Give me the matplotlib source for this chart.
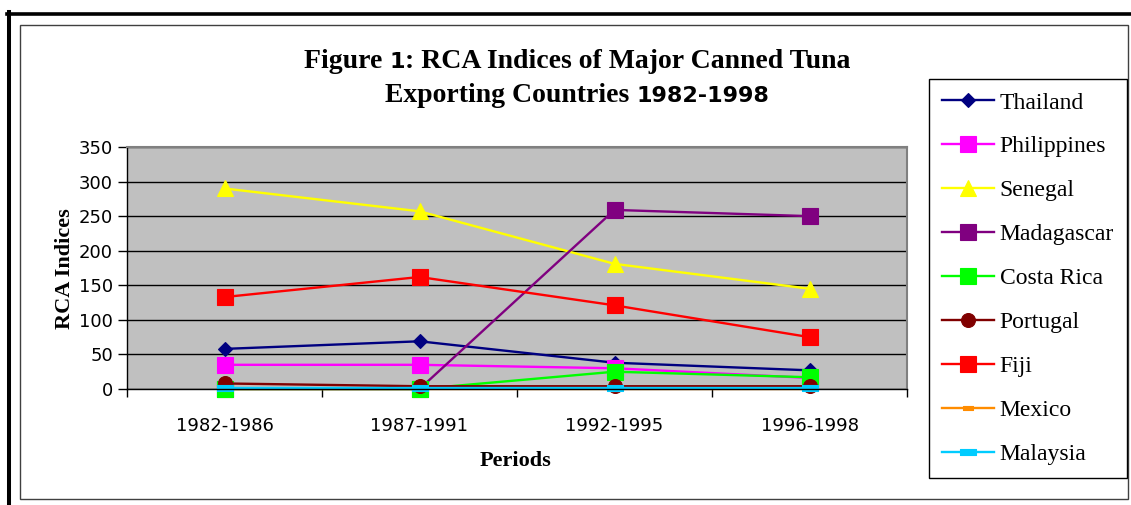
import numpy as np
import matplotlib
matplotlib.use("Agg")
import matplotlib.pyplot as plt
from matplotlib.lines import Line2D
from matplotlib.patches import Rectangle
from matplotlib.offsetbox import TextArea, HPacker, AnchoredOffsetbox

# data
periods = ["1982-1986", "1987-1991", "1992-1995", "1996-1998"]
thailand = [58, 69, 38, 27]
philippines = [35, 35, 30, 16]
senegal = [290, 257, 181, 145]
madagascar = [0, 0, 259, 250]
costa_rica = [0, 0, 25, 17]
portugal = [8, 4, 4, 4]
fiji = [133, 162, 121, 75]
mexico = [0.5, 0.5, 0.5, 0.5]
malaysia = [1.5, 1.5, 1.5, 1.5]

names = ["Thailand", "Philippines", "Senegal", "Madagascar", "Costa Rica",
         "Portugal", "Fiji", "Mexico", "Malaysia"]
values = [thailand, philippines, senegal, madagascar, costa_rica,
          portugal, fiji, mexico, malaysia]
colors = ["#000080", "#FF00FF", "#FFFF00", "#800080", "#00FF00",
          "#800000", "#FF0000", "#FF8C00", "#00CCFF"]
small_bar = [(-1, -0.4), (1, -0.4), (1, 0.4), (-1, 0.4), (-1, -0.4)]
markers = ["D", "s", "^", "s", "s", "o", "s", small_bar, small_bar]
msizes = [7.5, 11, 11, 11, 11, 10, 11, 6.5, 11]

fig = plt.figure(figsize=(11.31, 5.05), dpi=100)
ax = fig.add_axes([127/1131, 1-389/505, 780/1131, 242/505])
ax.set_facecolor("#C0C0C0")

x = np.arange(len(periods))
for nm, v, c, m, s in zip(names, values, colors, markers, msizes):
    ax.plot(x, v, color=c, lw=1.7, marker=m, markersize=s,
            markerfacecolor=c, markeredgecolor=c, markeredgewidth=0.8,
            label=nm, clip_on=False)

ax.set_xlim(-0.5, 3.5)
ax.set_ylim(0, 350)
ax.set_yticks(np.arange(0, 351, 50))
ax.yaxis.grid(True, color="black", lw=1)
ax.set_axisbelow(True)
ax.set_xticks(x)
ax.set_xticklabels(periods)
ax.set_xticks(np.arange(-0.5, 3.6, 1), minor=True)
ax.tick_params(axis="x", which="major", length=0, pad=20, labelsize=13)
ax.tick_params(axis="x", which="minor", length=6, width=1, direction="out")
ax.tick_params(axis="y", length=6.5, width=1, direction="out", pad=3.5, labelsize=13)
for sp in ["top", "right"]:
    ax.spines[sp].set_color("#808080")
    ax.spines[sp].set_linewidth(1.5)
for sp in ["left", "bottom"]:
    ax.spines[sp].set_color("black")
    ax.spines[sp].set_linewidth(1)

serif = "Liberation Serif"
fig.text(515/1131, 1-461/505, "Periods", family=serif, weight="bold",
         fontsize=16, ha="center", va="center")
fig.text(65/1131, 1-269/505, "RCA Indices", family=serif, weight="bold",
         fontsize=16, ha="center", va="center", rotation=90)

# title, mixed fonts like the original
tp_s = dict(family=serif, weight="bold", size=20)
tp_n = dict(family="DejaVu Sans", weight="bold", size=16)
line1 = HPacker(children=[TextArea("Figure ", textprops=tp_s),
                          TextArea("1", textprops=tp_n),
                          TextArea(": RCA Indices of Major Canned Tuna", textprops=tp_s)],
                align="baseline", pad=0, sep=0)
line2 = HPacker(children=[TextArea("Exporting Countries ", textprops=tp_s),
                          TextArea("1982-1998", textprops=tp_n)],
                align="baseline", pad=0, sep=0)
for ln, yy in [(line1, 61), (line2, 96)]:
    ab = AnchoredOffsetbox(loc="center", child=ln, pad=0, frameon=False,
                           bbox_to_anchor=(577/1131, 1-yy/505),
                           bbox_transform=fig.transFigure, borderpad=0)
    fig.add_artist(ab)

leg = fig.legend(loc="upper left", bbox_to_anchor=(929/1131, 1-79/505),
                 prop={"family": serif, "size": 17}, frameon=True,
                 fancybox=False, edgecolor="black", framealpha=1,
                 handlelength=2.2, handletextpad=0.25, labelspacing=0.95,
                 borderpad=0.55, borderaxespad=0)
leg.get_frame().set_linewidth(1)

# page frame
fig.add_artist(Line2D([7/1131, 1], [1-13.5/505, 1-13.5/505], color="black",
                      lw=2.6, transform=fig.transFigure))
fig.add_artist(Line2D([9/1131, 9/1131], [0, 1-12/505], color="black",
                      lw=2.9, transform=fig.transFigure))
fig.add_artist(Rectangle((20.5/1131, 1-499/505), 1107.5/1131, 474/505,
                         fill=False, edgecolor="#404040", lw=1,
                         transform=fig.transFigure))

fig.savefig("out.png", dpi=100)
